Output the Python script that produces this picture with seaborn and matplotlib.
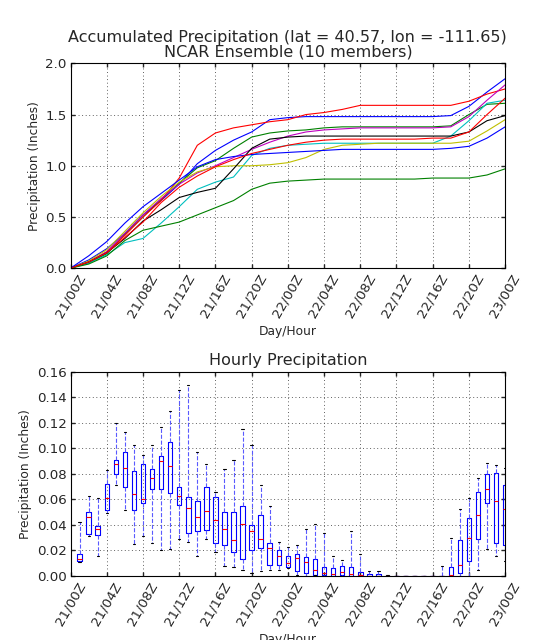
import numpy as np
import pandas as pd
import matplotlib
matplotlib.use('Agg')
import matplotlib.pyplot as plt
import seaborn as sns

# accumulated precipitation, one value every 2 hours from 21/00Z to 23/00Z
hours_acc = list(range(0, 49, 2))
tick_hours = list(range(0, 49, 4))
tick_labels = ['21/00Z', '21/04Z', '21/08Z', '21/12Z', '21/16Z', '21/20Z', '22/00Z',
               '22/04Z', '22/08Z', '22/12Z', '22/16Z', '22/20Z', '23/00Z']

# old matplotlib colour cycle b, g, r, c, m, y, k
member_colors = ['#0000ff', '#008000', '#ff0000', '#00bfbf', '#bf00bf',
                 '#bfbf00', '#000000', '#0000ff', '#008000', '#ff0000']

acc_m01 = [0, 0.08, 0.19, 0.34, 0.52, 0.66, 0.82, 1.02, 1.15, 1.25, 1.33, 1.45, 1.47,
           1.48, 1.48, 1.48, 1.48, 1.48, 1.48, 1.48, 1.48, 1.49, 1.58, 1.72, 1.85]
acc_m02 = [0, 0.05, 0.14, 0.33, 0.50, 0.67, 0.83, 0.98, 1.05, 1.17, 1.28, 1.32, 1.34,
           1.35, 1.37, 1.38, 1.38, 1.38, 1.38, 1.38, 1.38, 1.39, 1.50, 1.60, 1.61]
acc_m03 = [0, 0.06, 0.16, 0.32, 0.50, 0.66, 0.88, 1.20, 1.32, 1.37, 1.40, 1.43, 1.45,
           1.50, 1.52, 1.55, 1.59, 1.59, 1.59, 1.59, 1.59, 1.59, 1.63, 1.70, 1.75]
acc_m04 = [0, 0.05, 0.13, 0.25, 0.29, 0.44, 0.60, 0.77, 0.84, 0.89, 1.10, 1.17, 1.20,
           1.21, 1.22, 1.22, 1.22, 1.22, 1.22, 1.22, 1.22, 1.29, 1.44, 1.61, 1.64]
acc_m05 = [0, 0.06, 0.16, 0.34, 0.52, 0.68, 0.82, 0.93, 1.00, 1.08, 1.16, 1.23, 1.29,
           1.33, 1.35, 1.36, 1.37, 1.37, 1.37, 1.37, 1.37, 1.38, 1.48, 1.64, 1.79]
acc_m06 = [0, 0.07, 0.18, 0.36, 0.54, 0.70, 0.84, 0.94, 0.99, 1.00, 1.00, 1.01, 1.03,
           1.08, 1.16, 1.20, 1.21, 1.22, 1.22, 1.22, 1.22, 1.22, 1.24, 1.34, 1.45]
acc_m07 = [0, 0.06, 0.15, 0.29, 0.46, 0.57, 0.69, 0.74, 0.78, 0.97, 1.17, 1.26, 1.28,
           1.29, 1.29, 1.29, 1.29, 1.29, 1.29, 1.29, 1.29, 1.29, 1.33, 1.44, 1.49]
acc_m08 = [0, 0.12, 0.26, 0.44, 0.60, 0.73, 0.86, 0.99, 1.06, 1.09, 1.11, 1.12, 1.13,
           1.14, 1.15, 1.16, 1.16, 1.16, 1.16, 1.16, 1.16, 1.17, 1.19, 1.27, 1.38]
acc_m09 = [0, 0.04, 0.12, 0.27, 0.37, 0.41, 0.45, 0.52, 0.59, 0.66, 0.77, 0.83, 0.85,
           0.86, 0.87, 0.87, 0.87, 0.87, 0.87, 0.87, 0.88, 0.88, 0.88, 0.91, 0.97]
acc_m10 = [0, 0.06, 0.15, 0.30, 0.45, 0.64, 0.79, 0.90, 0.99, 1.06, 1.12, 1.16, 1.20,
           1.23, 1.25, 1.26, 1.26, 1.26, 1.26, 1.26, 1.27, 1.27, 1.33, 1.50, 1.66]

# hourly precipitation box statistics (hour 1 .. 48)
box_hours = list(range(1, 49))
box_low = [0.011, 0.031, 0.016, 0.049, 0.071, 0.052, 0.025, 0.031, 0.026, 0.020,
           0.021, 0.029, 0.027, 0.016, 0.029, 0.019, 0.008, 0.007, 0.005, 0.002,
           0.004, 0.005, 0.005, 0.006, 0.0005, 0.0003, 0.0005, 0, 0, 0,
           0, 0, 0, 0, 0, 0, 0, 0, 0, 0,
           0, 0, 0, 0, 0.0047, 0.021, 0.0155, 0.012]
box_q1 = [0.012, 0.033, 0.032, 0.052, 0.080, 0.070, 0.052, 0.057, 0.068, 0.068,
          0.065, 0.056, 0.034, 0.035, 0.036, 0.026, 0.024, 0.019, 0.013, 0.020,
          0.022, 0.009, 0.009, 0.007, 0.004, 0.002, 0.001, 0.0005, 0.0003, 0.0008,
          0.0003, 0, 0, 0, 0, 0, 0, 0, 0, 0,
          0, 0, 0.0022, 0.012, 0.0288, 0.057, 0.026, 0.024]
box_med = [0.0135, 0.046, 0.037, 0.061, 0.088, 0.085, 0.064, 0.060, 0.077, 0.090,
           0.086, 0.063, 0.053, 0.046, 0.051, 0.044, 0.037, 0.028, 0.041, 0.035,
           0.029, 0.022, 0.016, 0.010, 0.014, 0.011, 0.0047, 0.0025, 0.0016, 0.003,
           0.0015, 0.0005, 0.0002, 0.0002, 0, 0, 0, 0, 0, 0,
           0, 0.0008, 0.0087, 0.030, 0.0475, 0.068, 0.059, 0.0525]
box_q3 = [0.017, 0.050, 0.039, 0.072, 0.091, 0.097, 0.082, 0.088, 0.084, 0.094,
          0.105, 0.070, 0.062, 0.059, 0.070, 0.062, 0.050, 0.050, 0.055, 0.040,
          0.048, 0.026, 0.020, 0.016, 0.017, 0.015, 0.013, 0.0073, 0.006, 0.0078,
          0.0073, 0.0034, 0.0013, 0.0013, 0.0001, 0, 0, 0, 0, 0,
          0.0002, 0.0073, 0.028, 0.0455, 0.0655, 0.080, 0.081, 0.0713]
box_high = [0.042, 0.063, 0.061, 0.083, 0.120, 0.113, 0.103, 0.095, 0.103, 0.117,
            0.129, 0.146, 0.150, 0.097, 0.088, 0.066, 0.084, 0.091, 0.115, 0.103,
            0.071, 0.055, 0.027, 0.023, 0.024, 0.037, 0.041, 0.034, 0.0157, 0.0124,
            0.035, 0.0172, 0.0037, 0.0037, 0.0005, 0, 0, 0, 0, 0.0028,
            0.008, 0.030, 0.0525, 0.0615, 0.0765, 0.0887, 0.087, 0.085]

members = [acc_m01, acc_m02, acc_m03, acc_m04, acc_m05,
           acc_m06, acc_m07, acc_m08, acc_m09, acc_m10]
df_acc = pd.DataFrame({
    'hour': hours_acc * len(members),
    'precip': np.concatenate(members),
    'member': np.repeat([f'm{i + 1:02d}' for i in range(len(members))], len(hours_acc)),
})

# five values per hour -> quartiles and whisker ends come out exactly as listed
rows = []
for h, lo, q1, md, q3, hi in zip(box_hours, box_low, box_q1, box_med, box_q3, box_high):
    for v in (lo, q1, md, q3, hi):
        rows.append((h, v))
df_box = pd.DataFrame(rows, columns=['hour', 'precip'])

sns.set_theme(style='ticks', rc={
    'axes.edgecolor': 'black', 'axes.linewidth': 1.0, 'axes.grid': True,
    'grid.color': '#444444', 'grid.linestyle': (0, (1, 3)), 'grid.linewidth': 0.8,
    'xtick.direction': 'in', 'ytick.direction': 'in',
    'xtick.top': True, 'ytick.right': True,
    'xtick.major.size': 4, 'ytick.major.size': 4,
})
plt.rcParams['font.family'] = ['DejaVu Sans']

fig = plt.figure(figsize=(7, 8), dpi=80)
ax1 = fig.add_axes([0.126, 0.581, 0.776, 0.320])
ax2 = fig.add_axes([0.126, 0.100, 0.776, 0.319])

sns.lineplot(data=df_acc, x='hour', y='precip', hue='member', palette=member_colors,
             linewidth=1, legend=False, ax=ax1)
ax1.set_xlim(0, 48)
ax1.set_ylim(0, 2.0)
ax1.set_yticks([0, 0.5, 1.0, 1.5, 2.0])
ax1.set_yticklabels(['0.0', '0.5', '1.0', '1.5', '2.0'])
ax1.set_xticks(tick_hours)
ax1.set_xticklabels(tick_labels, rotation=60)
ax1.set_xlabel('Day/Hour', fontsize=11)
ax1.set_ylabel('Precipitation (Inches)', fontsize=11)
ax1.set_title('Accumulated Precipitation (lat = 40.57, lon = -111.65)\nNCAR Ensemble (10 members)',
              fontsize=14.4, linespacing=1.0)
ax1.grid(True)

sns.boxplot(data=df_box, x='hour', y='precip', native_scale=True, width=0.5, fill=False,
            color='blue', linewidth=1, whis=np.inf, showfliers=False,
            medianprops=dict(color='red'),
            whiskerprops=dict(color='#5a5aff', linestyle='--'),
            capprops=dict(color='black'),
            ax=ax2)
ax2.set_xlim(0, 48)
ax2.set_ylim(0, 0.16)
ax2.set_yticks(np.arange(0, 0.161, 0.02))
ax2.set_yticklabels([f'{v:.2f}' for v in np.arange(0, 0.161, 0.02)])
ax2.set_xticks(tick_hours)
ax2.set_xticklabels(tick_labels, rotation=60)
ax2.set_xlabel('Day/Hour', fontsize=11)
ax2.set_ylabel('Precipitation (Inches)', fontsize=11)
ax2.set_title('Hourly Precipitation', fontsize=14.4)
ax2.grid(True)

for ax in (ax1, ax2):
    ax.tick_params(labelsize=12)

fig.savefig('out.png', dpi=80)
